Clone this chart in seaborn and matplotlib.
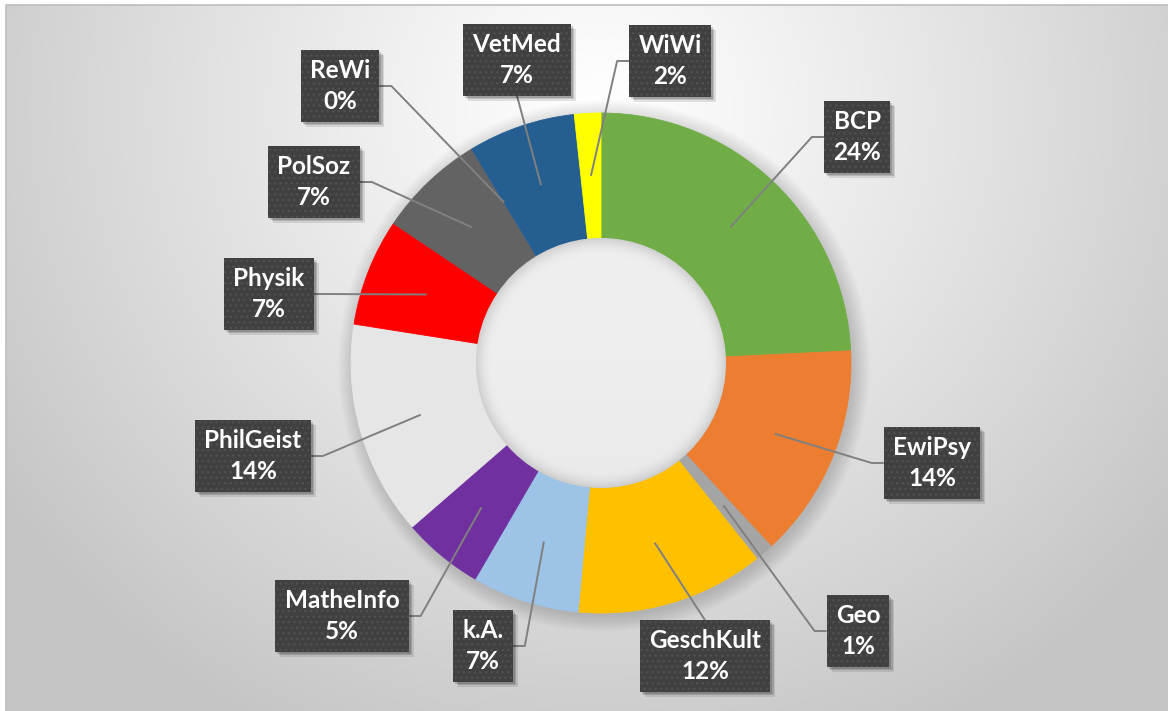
import numpy as np
import matplotlib
matplotlib.use("Agg")
import matplotlib.pyplot as plt
import seaborn as sns
from matplotlib.patches import Circle, Rectangle

# ---------------- data ----------------
categories = ["BCP", "EwiPsy", "Geo", "GeschKult", "k.A.", "MatheInfo",
              "PhilGeist", "Physik", "PolSoz", "ReWi", "VetMed", "WiWi"]
shares = [24.1, 13.8, 1.2, 12.1, 6.9, 5.2, 13.8, 6.9, 6.9, 0.0, 6.9, 1.7]
colors = ["#70AD47", "#ED7D31", "#A5A5A5", "#FFC000", "#9DC3E6", "#7030A0",
          "#E7E6E6", "#FF0000", "#636363", "#4472C4", "#255E91", "#FFFF00"]

# ---------------- layout (pixels) ----------------
W, H = 1168, 711
CX, CY, R = 601, 363, 250
label_center = {
    "BCP": (857, 137), "EwiPsy": (932, 463), "Geo": (858, 631),
    "GeschKult": (705, 656), "k.A.": (483, 646), "MatheInfo": (342, 616),
    "PhilGeist": (253, 456), "Physik": (269, 294), "PolSoz": (314, 182),
    "ReWi": (340, 86), "VetMed": (517, 60), "WiWi": (670, 61),
}
label_side = {
    "BCP": "left", "EwiPsy": "left", "Geo": "left", "GeschKult": "top",
    "k.A.": "right", "MatheInfo": "right", "PhilGeist": "right",
    "Physik": "right", "PolSoz": "right", "ReWi": "right",
    "VetMed": "bottom", "WiWi": "left",
}

sns.set_theme(style="white")
plt.rcParams["font.family"] = ["Lato", "DejaVu Sans"]


def px(x, y):
    return (x - CX) / R, (CY - y) / R


fig = plt.figure(figsize=(W / 100, H / 100), dpi=100, facecolor="white")
ax = fig.add_axes([0, 0, 1, 1])
x0, y0 = px(0, H)
x1, y1 = px(W, 0)

# background gradient panel
gx = np.arange(6, W) + 0.5
gy = np.arange(5, H) + 0.5
GX, GY = np.meshgrid(gx, gy)
d = np.sqrt(((GX - 600) / 720) ** 2 + ((GY - 110) / 700) ** 2)
val = 255 - 58 * np.clip(d, 0, 1) ** 1.1
img = np.dstack([val, val, val]) / 255.0
ex0, ey1 = px(6, 5)
ex1, ey0 = px(W, H)
ax.imshow(img, extent=(ex0, ex1, ey0, ey1), origin="upper", zorder=0,
          interpolation="bilinear")
ax.plot([ex0, ex0, ex1], [ey0, ey1, ey1], color="#bdbdbd", lw=1.2, zorder=0.5)

# donut shadow
for i in range(10):
    ax.add_patch(Circle((0.012, -0.012), 1.0 + i * 0.007, color="black",
                        alpha=0.016, lw=0, zorder=1))

wedges, _ = ax.pie(shares, colors=colors, startangle=90, counterclock=False,
                   radius=1.0, center=(0, 0), frame=True,
                   wedgeprops=dict(width=0.5, linewidth=0.6))
for w, c in zip(wedges, colors):
    w.set_edgecolor(c)
    w.set_zorder(2)

# hole shading
hn = 300
hx = np.linspace(-0.5, 0.5, hn)
HX, HY = np.meshgrid(hx, hx[::-1])
rr = np.sqrt(HX ** 2 + HY ** 2) / 0.5
hv = 238 - 4 * (HY < 0) * (-HY / 0.5) - 30 * np.clip((rr - 0.86) / 0.14, 0, 1) ** 2
himg = np.dstack([hv, hv, hv]) / 255.0
hole = Circle((0, 0), 0.5, transform=ax.transData, facecolor="none", lw=0)
ax.add_patch(hole)
him = ax.imshow(himg, extent=(-0.5, 0.5, -0.5, 0.5), zorder=2.5,
                interpolation="bilinear")
him.set_clip_path(hole)

ax.set_xlim(x0, x1)
ax.set_ylim(y0, y1)
ax.set_aspect("equal")
ax.axis("off")

# labels
total = sum(shares)
texts = {}
for cat, v in zip(categories, shares):
    lx, ly = px(*label_center[cat])
    s = f"{cat}\n{round(v / total * 100):.0f}%"
    t = ax.text(lx, ly, s, ha="center", va="center", multialignment="center",
                fontsize=17.5, fontweight="bold", linespacing=1.38,
                color="white", zorder=5,
                bbox=dict(boxstyle="square,pad=0.38", fc="#404040",
                          ec="#505050", lw=0, hatch="..."))
    texts[cat] = t

fig.canvas.draw()
renderer = fig.canvas.get_renderer()
inv = ax.transData.inverted()
for cat, w in zip(categories, wedges):
    t = texts[cat]
    bb = t.get_bbox_patch().get_window_extent(renderer)
    (bx0, by0), (bx1, by1) = inv.transform([[bb.x0, bb.y0], [bb.x1, bb.y1]])
    # soft drop shadow
    for off, a in [(5, 0.10), (3.5, 0.14), (2, 0.16)]:
        o = off / R
        ax.add_patch(Rectangle((bx0 + o, by0 - o), bx1 - bx0, by1 - by0,
                               facecolor="black", alpha=a, lw=0, zorder=4))
    mid = np.deg2rad((w.theta1 + w.theta2) / 2)
    ax0_, ay0_ = 0.75 * np.cos(mid), 0.75 * np.sin(mid)
    lx, ly = px(*label_center[cat])
    side = label_side[cat]
    gap = 12 / R
    if side == "left":
        pts = [(ax0_, ay0_), (bx0 - gap, ly), (bx0, ly)]
    elif side == "right":
        pts = [(ax0_, ay0_), (bx1 + gap, ly), (bx1, ly)]
    elif side == "top":
        pts = [(ax0_, ay0_), (lx, by1)]
    else:
        pts = [(ax0_, ay0_), (lx, by0)]
    xs, ys = zip(*pts)
    ax.plot(xs, ys, color="#808080", lw=1.4, zorder=3.5, solid_capstyle="butt")

fig.savefig("out.png", dpi=100, facecolor="white")
